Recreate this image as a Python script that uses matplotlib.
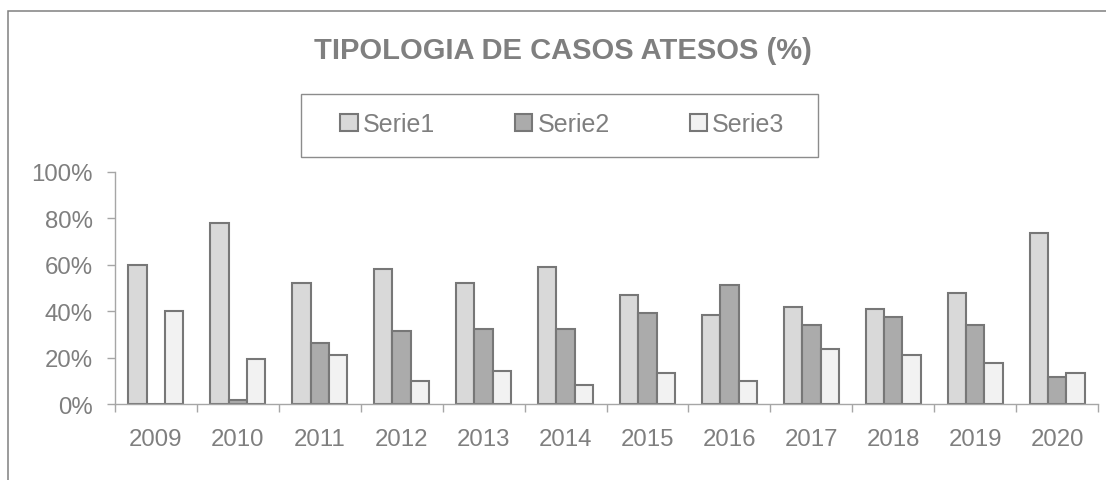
import numpy as np
import matplotlib
matplotlib.use("Agg")
import matplotlib.pyplot as plt
from matplotlib.patches import Rectangle

years = ["2009", "2010", "2011", "2012", "2013", "2014",
         "2015", "2016", "2017", "2018", "2019", "2020"]
serie1 = [60.0, 77.8, 52.0, 58.0, 52.0, 59.0, 47.0, 38.4, 41.8, 41.0, 47.7, 73.6]
serie2 = [0.0, 1.7, 26.4, 31.6, 32.3, 32.4, 39.3, 51.3, 34.1, 37.6, 34.1, 11.7]
serie3 = [40.0, 19.5, 21.3, 10.1, 14.4, 8.4, 13.5, 10.0, 23.8, 21.2, 17.9, 13.6]
series_names = ["Serie1", "Serie2", "Serie3"]
yticks = [0, 20, 40, 60, 80, 100]

plt.rcParams["font.family"] = ["Liberation Sans", "DejaVu Sans"]
TXT = "#7f7f7f"
EDGE = "#777777"
AXC = "#a6a6a6"
W, H = 1106, 481

fig = plt.figure(figsize=(W / 100, H / 100), dpi=100)
ax = fig.add_axes([114.7 / W, 1 - 405.3 / H, (1098.3 - 114.7) / W, (405.3 - 172.7) / H])

x = np.arange(len(years))
bw = 1 / 4.5
fills = ["#d9d9d9", "#ababab", "#f2f2f2"]
handles = []
for i, (vals, col, name) in enumerate(zip([serie1, serie2, serie3], fills, series_names)):
    b = ax.bar(x + (i - 1) * bw, vals, bw, color=col, edgecolor=EDGE, linewidth=1.5, label=name)
    handles.append(b)

ax.set_xlim(-0.5, len(years) - 0.5)
ax.set_ylim(0, 100)
ax.set_yticks(yticks)
ax.set_yticklabels([f"{v}%" for v in yticks])
ax.set_xticks(x)
ax.set_xticklabels(years)
ax.set_xticks(np.arange(-0.5, len(years)), minor=True)
ax.tick_params(axis="x", which="major", length=0, pad=17, labelsize=17.3, labelcolor=TXT)
ax.tick_params(axis="x", which="minor", length=5.8, color=AXC, width=1)
ax.tick_params(axis="y", length=5.8, color=AXC, width=1, pad=10, labelsize=17.3, labelcolor=TXT)
for s in ["top", "right"]:
    ax.spines[s].set_visible(False)
for s in ["left", "bottom"]:
    ax.spines[s].set_color(AXC)
    ax.spines[s].set_linewidth(1)

# outer chart frame (cropped on the right and bottom)
fig.patches.append(Rectangle((8 / W, -0.1), 1.2, 1.1 - 11.7 / H, transform=fig.transFigure,
                             fill=False, edgecolor="#808080", linewidth=1.1))

fig.text(562.5 / W, 1 - 59 / H, "TIPOLOGIA DE CASOS ATESOS (%)", ha="center", va="baseline",
         fontsize=21, fontweight="bold", color=TXT)

# legend box
fig.patches.append(Rectangle((300.7 / W, 1 - 158.3 / H), (818.3 - 300.7) / W, (158.3 - 95) / H,
                             transform=fig.transFigure, fill=False, edgecolor="#8c8c8c", linewidth=1))
leg = fig.legend(handles=handles, loc="center", bbox_to_anchor=(562.4 / W, 1 - 125 / H), ncol=3,
                 frameon=False, fontsize=18, handlelength=0.7, handleheight=0.7,
                 handletextpad=0.2, columnspacing=3.2, borderpad=0)
for t in leg.get_texts():
    t.set_color(TXT)

fig.savefig("out.png", dpi=100)
